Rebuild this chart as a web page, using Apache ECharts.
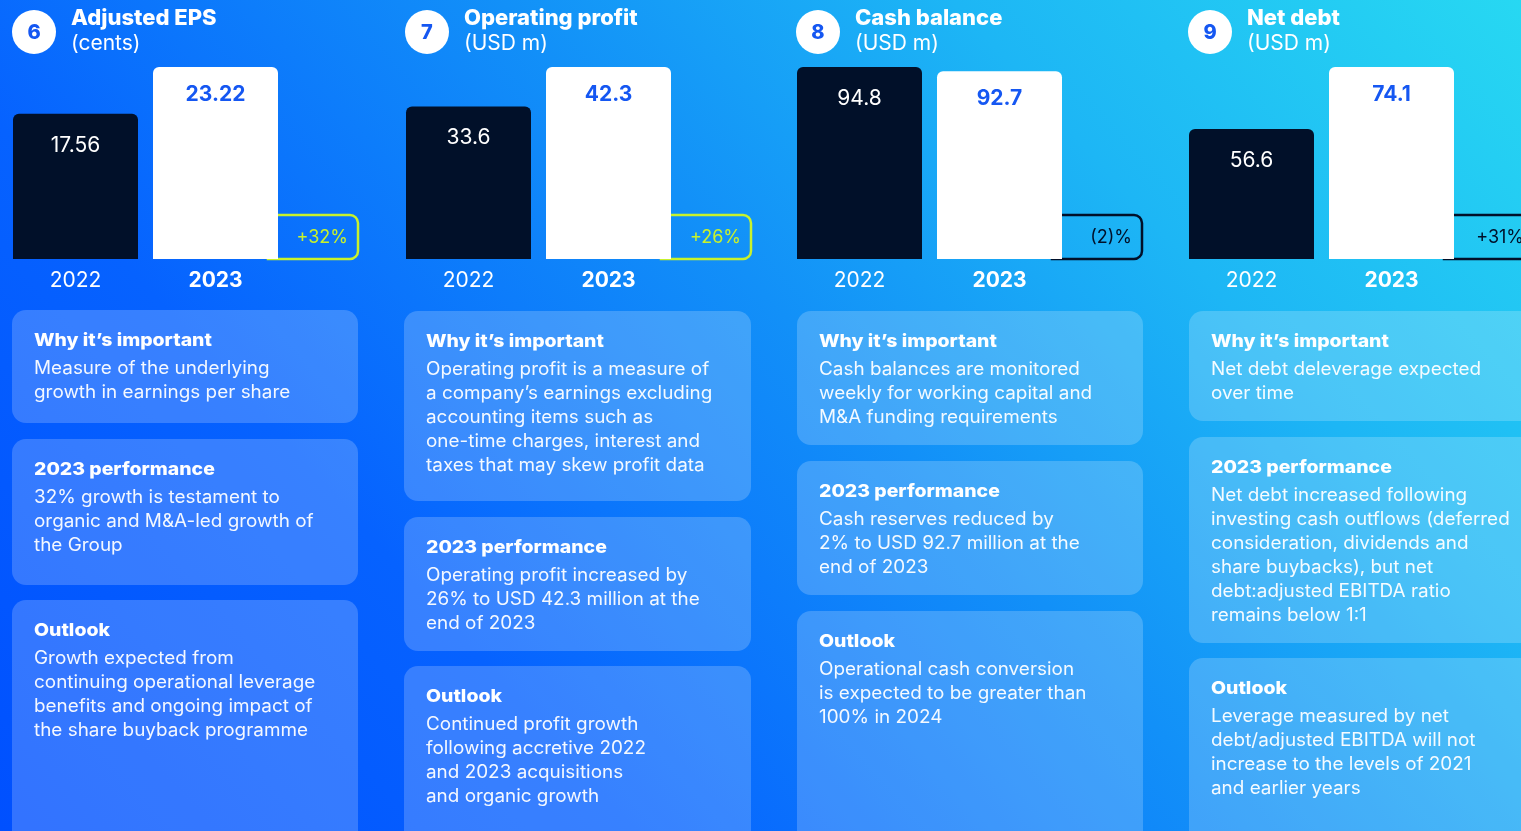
<!DOCTYPE html>
<html>
<head>
<meta charset="utf-8">
<script src="https://cdn.jsdelivr.net/npm/echarts@6/dist/echarts.min.js"></script>
<style>
  html, body { margin: 0; padding: 0; }
  #main {
    width: 1521px; height: 831px;
    background: linear-gradient(48deg, #0050ff 0%, #0662ff 28%, #1290f8 55%, #1db6f5 75%, #27d8f2 100%);
  }
</style>
</head>
<body>
<div id="main"></div>
<script>
// data
const years = ['2022', '2023'];
const kpiNumbers = ['6', '7', '8', '9'];
const kpiTitles = ['Adjusted EPS', 'Operating profit', 'Cash balance', 'Net debt'];
const kpiUnits = ['(cents)', '(USD m)', '(USD m)', '(USD m)'];
const values2022 = [17.56, 33.6, 94.8, 56.6];
const values2023 = [23.22, 42.3, 92.7, 74.1];
const valueLabels2022 = ['17.56', '33.6', '94.8', '56.6'];
const valueLabels2023 = ['23.22', '42.3', '92.7', '74.1'];
const changeLabels = ['+32%', '+26%', '(2)%', '+31%'];
const axisMin = [0, 0, 0, 20];

const whyText = [
  ['Measure of the underlying', 'growth in earnings per share'],
  ['Operating profit is a measure of', 'a company’s earnings excluding', 'accounting items such as', 'one-time charges, interest and', 'taxes that may skew profit data'],
  ['Cash balances are monitored', 'weekly for working capital and', 'M&A funding requirements'],
  ['Net debt deleverage expected', 'over time']
];
const perfText = [
  ['32% growth is testament to', 'organic and M&A-led growth of', 'the Group'],
  ['Operating profit increased by', '26% to USD 42.3 million at the', 'end of 2023'],
  ['Cash reserves reduced by', '2% to USD 92.7 million at the', 'end of 2023'],
  ['Net debt increased following', 'investing cash outflows (deferred', 'consideration, dividends and', 'share buybacks), but net', 'debt:adjusted EBITDA ratio', 'remains below 1:1']
];
const outlookText = [
  ['Growth expected from', 'continuing operational leverage', 'benefits and ongoing impact of', 'the share buyback programme'],
  ['Continued profit growth', 'following accretive 2022', 'and 2023 acquisitions', 'and organic growth'],
  ['Operational cash conversion', 'is expected to be greater than', '100% in 2024'],
  ['Leverage measured by net', 'debt/adjusted EBITDA will not', 'increase to the levels of 2021', 'and earlier years']
];

const FONT = 'Inter, "Noto Sans", sans-serif';
const DARK = '#011029';
const BLUE = '#1557f2';
const LIME = '#c8f22c';

// panel layout
const panelX = [13, 406, 797, 1189];
const cardX = [12, 404, 797, 1189];
const cardW = [346, 347, 346, 360];
const cardY = [[310, 439, 600], [311, 517, 666], [311, 461, 611], [311, 437, 658]];
const cardH = [[113, 146, 260], [190, 134, 200], [134, 134, 250], [110, 206, 200]];
const badgeColor = [LIME, LIME, DARK, DARK];

const chartDom = document.getElementById('main');
const myChart = echarts.init(chartDom, null, { renderer: 'canvas' });

const grids = [], xAxes = [], yAxes = [], series = [];
for (let i = 0; i < 4; i++) {
  grids.push({ left: panelX[i] - 7.5, top: 67, width: 280, height: 192 });
  xAxes.push({
    type: 'category', gridIndex: i, data: years,
    axisLine: { show: false }, axisTick: { show: false },
    axisLabel: {
      margin: 11, fontFamily: FONT, fontSize: 21, color: '#fff',
      formatter: (v, idx) => idx === 1 ? '{b|' + v + '}' : v,
      rich: { b: { fontFamily: FONT, fontSize: 21, fontWeight: 'bold', color: '#fff' } }
    }
  });
  yAxes.push({
    type: 'value', gridIndex: i, min: axisMin[i], max: Math.max(values2022[i], values2023[i]),
    show: false, splitLine: { show: false }
  });
  series.push({
    type: 'bar', xAxisIndex: i, yAxisIndex: i, barWidth: 125,
    data: [
      {
        value: values2022[i],
        itemStyle: { color: DARK, borderRadius: [6, 6, 0, 0] },
        label: { show: true, position: 'insideTop', distance: 21, formatter: valueLabels2022[i],
          color: '#fff', fontFamily: FONT, fontSize: 21, fontWeight: 'normal' }
      },
      {
        value: values2023[i],
        itemStyle: { color: '#fff', borderRadius: [6, 6, 0, 0] },
        label: { show: true, position: 'insideTop', distance: 17, formatter: valueLabels2023[i],
          color: BLUE, fontFamily: FONT, fontSize: 21, fontWeight: 'bold' }
      }
    ],
    z: 3,
    animation: false
  });
}

myChart.setOption({
  animation: false,
  backgroundColor: 'transparent',
  grid: grids, xAxis: xAxes, yAxis: yAxes, series: series
});

// decorations: headers, badges, cards
const graphics = [];
for (let i = 0; i < 4; i++) {
  const px = panelX[i];
  graphics.push({ type: 'circle', shape: { cx: px + 21, cy: 32, r: 22 }, style: { fill: '#fff' }, z: 1 });
  graphics.push({ type: 'text', x: px + 21, y: 33, z: 2,
    style: { text: kpiNumbers[i], fill: BLUE, font: '800 20px ' + FONT, align: 'center', verticalAlign: 'middle' } });
  graphics.push({ type: 'text', x: px + 58, y: 18, z: 2,
    style: { text: kpiTitles[i], fill: '#fff', font: '800 22px ' + FONT, verticalAlign: 'middle' } });
  graphics.push({ type: 'text', x: px + 58, y: 44, z: 2,
    style: { text: kpiUnits[i], fill: '#fff', font: '21px ' + FONT, verticalAlign: 'middle' } });

  // change badge attached to the right of the 2023 bar
  const base = myChart.convertToPixel({ gridIndex: i }, [1, axisMin[i]]);
  const bx = base[0] + 62.5;
  graphics.push({ type: 'rect', z: 1,
    shape: { x: bx - 10, y: base[1] - 44, width: 90, height: 44, r: [0, 8, 8, 0] },
    style: { fill: 'none', stroke: badgeColor[i], lineWidth: 2.5 } });
  graphics.push({ type: 'text', x: bx + 70, y: base[1] - 21, z: 4,
    style: { text: changeLabels[i], fill: badgeColor[i], font: '18px ' + FONT, align: 'right', verticalAlign: 'middle' } });

  // text cards
  const blocks = [['Why it’s important', whyText[i]], ['2023 performance', perfText[i]], ['Outlook', outlookText[i]]];
  blocks.forEach((b, k) => {
    const cy = cardY[i][k];
    graphics.push({ type: 'rect', z: 0,
      shape: { x: cardX[i], y: cy, width: cardW[i], height: cardH[i][k], r: 14 },
      style: { fill: 'rgba(255,255,255,0.2)' } });
    graphics.push({ type: 'text', x: cardX[i] + 22, y: cy + 31, z: 2, scaleX: 1.08,
      style: { text: b[0], fill: '#fff', font: '800 18px ' + FONT, verticalAlign: 'middle' } });
    b[1].forEach((line, j) => {
      graphics.push({ type: 'text', x: cardX[i] + 22, y: cy + 59 + j * 24, z: 2, scaleX: 1.05,
        style: { text: line, fill: 'rgba(255,255,255,0.95)', font: '18px ' + FONT, verticalAlign: 'middle' } });
    });
  });
}

myChart.setOption({ graphic: { elements: graphics } });
</script>
</body>
</html>
